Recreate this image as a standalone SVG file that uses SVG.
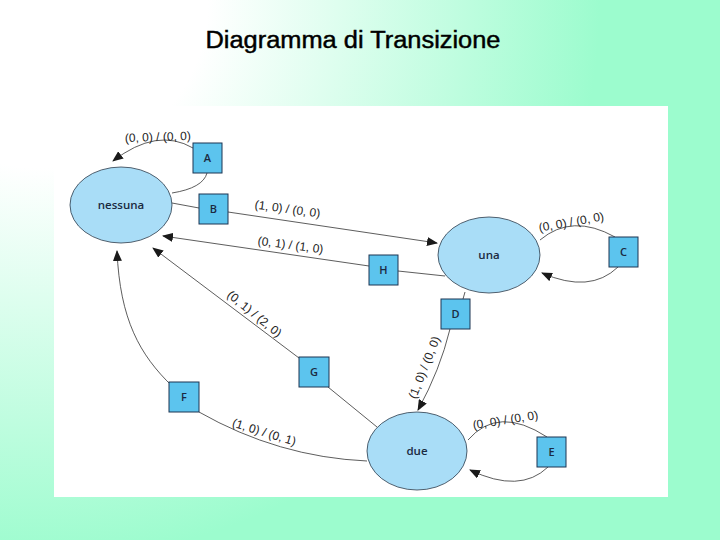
<svg xmlns="http://www.w3.org/2000/svg" width="720" height="540" viewBox="0 0 720 540">
<defs>
<radialGradient id="bg" gradientUnits="userSpaceOnUse" cx="40" cy="0" r="560">
<stop offset="0" stop-color="#ffffff"/>
<stop offset="0.3" stop-color="#ffffff"/>
<stop offset="1" stop-color="#9cfcce"/>
</radialGradient>
<marker id="arr" markerUnits="userSpaceOnUse" markerWidth="11" markerHeight="9" refX="10" refY="4.5" orient="auto">
<path d="M0,0 L11,4.5 L0,9 z" fill="#1a1a1a"/>
</marker>
<style>
.st{fill:#a9ddf7;stroke:#2a3a4a;stroke-width:0.8}
.bx{fill:#5cc4ee;stroke:#1d3552;stroke-width:1}
.nt{font-family:"Open Sans","DejaVu Sans",sans-serif;font-size:11.5px;font-weight:600;fill:#1b2a41;text-anchor:middle}
.bt{font-family:"Open Sans","DejaVu Sans",sans-serif;font-size:11px;font-weight:600;fill:#1b2a41;text-anchor:middle}
.lb{font-family:"Liberation Sans",Arial,sans-serif;font-size:12px;fill:#222;text-anchor:middle}
.cn{fill:none;stroke:#333;stroke-width:0.8}
</style>
</defs>
<rect x="0" y="0" width="720" height="540" fill="url(#bg)"/>
<text x="353" y="48" font-family="Liberation Sans,Arial,sans-serif" font-size="23" fill="#000" stroke="#000" stroke-width="0.45" text-anchor="middle" textLength="295" lengthAdjust="spacingAndGlyphs">Diagramma di Transizione</text>
<rect x="54" y="106" width="614" height="391" fill="#ffffff"/>

<g id="connectors">
<path class="cn" d="M207,173 Q203,188 172,193"/>
<path class="cn" d="M193,148 Q157,127 113,161" marker-end="url(#arr)"/>
<path class="cn" d="M172,203 L199,208"/>
<path class="cn" d="M228,212 L437,243" marker-end="url(#arr)"/>
<path class="cn" d="M445,276 L398,271"/>
<path class="cn" d="M369,266 L163,236" marker-end="url(#arr)"/>
<path class="cn" d="M540,240 Q572,213 615,237"/>
<path class="cn" d="M618,267 Q590,294 542,273" marker-end="url(#arr)"/>
<path class="cn" d="M465,292 L463,299"/>
<path class="cn" d="M450,329 Q440,370 418,410" marker-end="url(#arr)"/>
<path class="cn" d="M377,427 L328,387"/>
<path class="cn" d="M299,358 L153,248" marker-end="url(#arr)"/>
<path class="cn" d="M367,461 Q278,457 199,412"/>
<path class="cn" d="M172,386 C140,355 120,320 117,251" marker-end="url(#arr)"/>
<path class="cn" d="M468,440 Q498,405 547,437"/>
<path class="cn" d="M548,467 Q520,494 470,470" marker-end="url(#arr)"/>
<text class="lb" x="158" y="141" transform="rotate(-2 158 141)">(0, 0) / (0, 0)</text>
<text class="lb" x="287" y="213" transform="rotate(8 287 213)">(1, 0) / (0, 0)</text>
<text class="lb" x="290" y="249" transform="rotate(7.5 290 249)">(0, 1) / (1, 0)</text>
<text class="lb" x="572" y="226" transform="rotate(-10 572 226)">(0, 0) / (0, 0)</text>
<text class="lb" x="428" y="369" transform="rotate(-68 428 369)">(1, 0) / (0, 0)</text>
<text class="lb" x="252" y="317" transform="rotate(39 252 317)">(0, 1) / (2, 0)</text>
<text class="lb" x="263" y="436" transform="rotate(17 263 436)">(1, 0) / (0, 1)</text>
<text class="lb" x="506" y="424" transform="rotate(-9 506 424)">(0, 0) / (0, 0)</text>
</g>

<g id="nessuna"><ellipse class="st" cx="121" cy="205" rx="51" ry="38"/><text class="nt" x="121" y="209">nessuna</text></g>
<g id="una"><ellipse class="st" cx="489" cy="255" rx="51" ry="38"/><text class="nt" x="489" y="259">una</text></g>
<g id="due"><ellipse class="st" cx="417" cy="451" rx="50" ry="39"/><text class="nt" x="417" y="455">due</text></g>

<g id="A"><rect class="bx" x="193" y="143" width="29" height="30"/><text class="bt" x="207.5" y="162">A</text></g>
<g id="B"><rect class="bx" x="199" y="194" width="29" height="30"/><text class="bt" x="213.5" y="213">B</text></g>
<g id="C"><rect class="bx" x="609" y="237" width="29" height="30"/><text class="bt" x="623.5" y="256">C</text></g>
<g id="D"><rect class="bx" x="441" y="299" width="29" height="30"/><text class="bt" x="455.5" y="318">D</text></g>
<g id="E"><rect class="bx" x="537" y="437" width="29" height="30"/><text class="bt" x="551.5" y="456">E</text></g>
<g id="F"><rect class="bx" x="169" y="382" width="30" height="30"/><text class="bt" x="184" y="401">F</text></g>
<g id="G"><rect class="bx" x="299" y="357" width="30" height="30"/><text class="bt" x="314" y="376">G</text></g>
<g id="H"><rect class="bx" x="369" y="255" width="29" height="30"/><text class="bt" x="383.5" y="274">H</text></g>
</svg>
